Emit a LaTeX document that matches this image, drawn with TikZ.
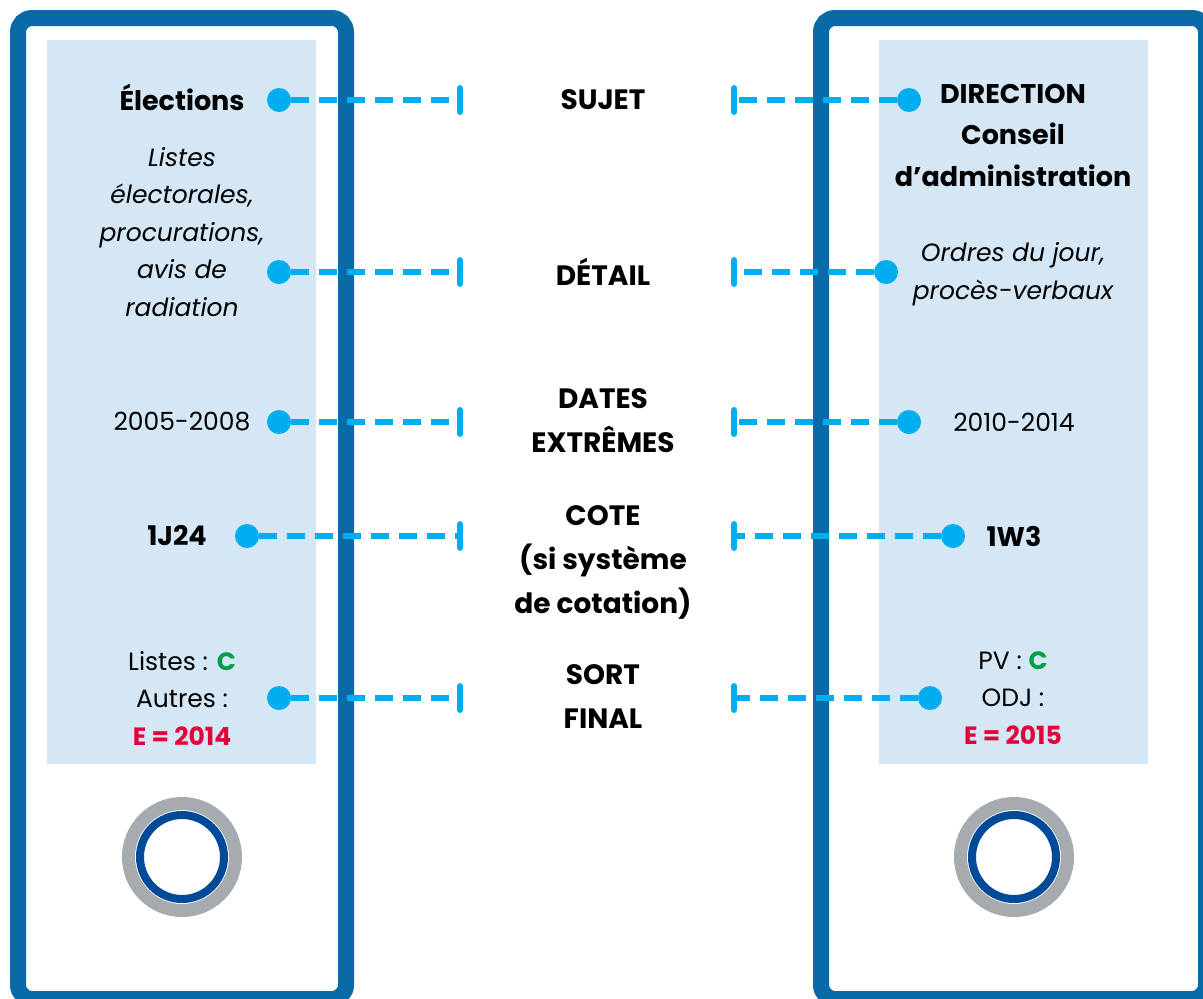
\documentclass[tikz,border=0pt]{standalone}
\usepackage{fontspec}
\setmainfont{Poppins}
\usetikzlibrary{arrows.meta}

\definecolor{binderblue}{RGB}{8,106,166}
\definecolor{panelblue}{RGB}{213,231,245}
\definecolor{linkcyan}{RGB}{0,174,239}
\definecolor{ringgray}{RGB}{165,171,174}
\definecolor{ringblue}{RGB}{0,74,153}
\definecolor{keepgreen}{RGB}{0,158,70}
\definecolor{elimred}{RGB}{228,0,58}

\begin{document}
\begin{tikzpicture}[
            x=1pt, y=-1pt,
            binder/.style={draw=binderblue, line width=16pt, rounded corners=14pt},
            panel/.style={fill=panelblue},
            dot/.style={circle, fill=linkcyan, minimum size=24pt, inner sep=0pt},
            link/.style={draw=linkcyan, line width=6pt, dash pattern=on 18pt off 10pt, -{Bar[width=24pt, round]}},
            head/.style={align=center, font=\fontsize{28}{44}\selectfont\bfseries},
            side/.style={align=center, font=\fontsize{25}{37.5}\selectfont},
            sidebold/.style={side, font=\fontsize{27}{41.5}\selectfont\bfseries},
        ]
            \useasboundingbox (0,0) rectangle (1203,999);

            % Draw the two binders with their label panels
            \draw[binder] (18,18) rectangle (346,999);
            \draw[binder] (821,18) rectangle (1206,999);
            \fill[panel] (47,40) rectangle (316,764);
            \fill[panel] (879,40) rectangle (1148,764);

            % Draw the finger rings
            \foreach \x in {182,1014} {
                \draw[ringgray, line width=13pt] (\x,857) circle (53.5);
                \draw[ringblue, line width=8pt] (\x,857) circle (42);
            }

            % Left binder texts
            \node[sidebold] (LX-1) at (182,97) {Élections};
            \node[side, font=\fontsize{25}{37.5}\selectfont\itshape] (LX-2) at (182,232)
                {Listes\\électorales,\\procurations,\\avis de\\radiation};
            \node[side] (LX-3) at (182,422) {2005-2008};
            \node[sidebold] (LX-4) at (177,536) {1J24};
            \node[side] (LX-5) at (182,698)
                {Listes : {\bfseries\color{keepgreen}C}\\Autres :\\{\bfseries\color{elimred}E = 2014}};

            % Right binder texts
            \node[sidebold] (RX-1) at (1013,135) {DIRECTION\\Conseil\\d’administration};
            \node[side, font=\fontsize{25}{37.5}\selectfont\itshape] (RX-2) at (1013,274)
                {Ordres du jour,\\procès-verbaux};
            \node[side] (RX-3) at (1014,422) {2010-2014};
            \node[sidebold] (RX-4) at (1014,536) {1W3};
            \node[side] (RX-5) at (1013,698)
                {PV : {\bfseries\color{keepgreen}C}\\ODJ :\\{\bfseries\color{elimred}E = 2015}};

            % Draw the middle headings
            \node[head] (H-1) at (603,100) {SUJET};
            \node[head] (H-2) at (603,272) {DÉTAIL};
            \node[head] (H-3) at (603,421) {DATES\\EXTRÊMES};
            \node[head] (H-4) at (603,562) {COTE\\(si système\\de cotation)};
            \node[head] (H-5) at (603,697) {SORT\\FINAL};

            % Connect every text with the heading of its row
            \foreach \name / \y / \xl / \xr in {1/100/279/909, 2/272/279/886, 3/422/279/909, 4/536/247/953, 5/698/279/930} {
                \node[dot] (LD-\name) at (\xl,\y) {};
                \node[dot] (RD-\name) at (\xr,\y) {};
                \coordinate (LE-\name) at (463,\y);
                \coordinate (RE-\name) at (731,\y);
                \draw[link] (LD-\name) -- (LE-\name);
                \draw[link] (RD-\name) -- (RE-\name);
            }
        \end{tikzpicture}
\end{document}
